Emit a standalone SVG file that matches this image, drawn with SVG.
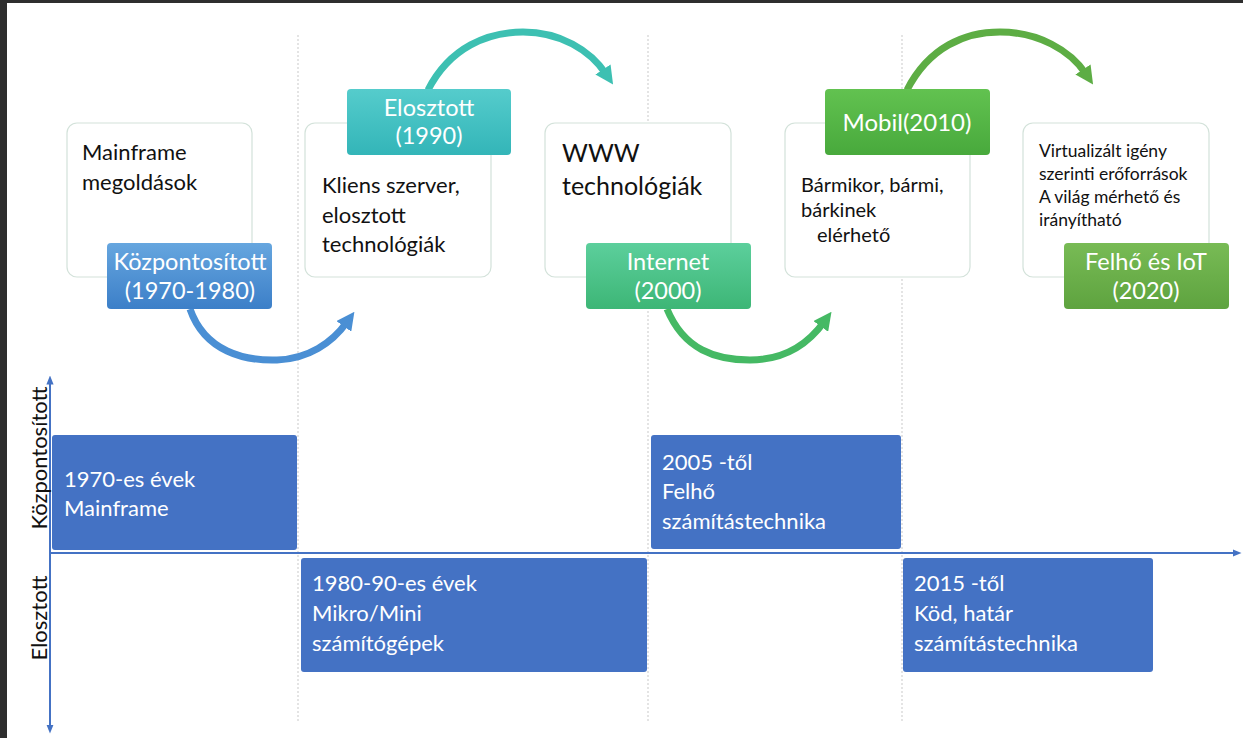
<svg xmlns="http://www.w3.org/2000/svg" width="1243" height="738" viewBox="0 0 1243 738">
<style>
.card{fill:#fff;stroke:#d3e2da;stroke-width:1.2}
.t{font-family:Lato,"Open Sans","Liberation Sans",sans-serif;fill:#111}
.lbl{font-family:Lato,"Open Sans","Liberation Sans",sans-serif;fill:#fff;font-size:23.5px;text-anchor:middle}
.bt{font-family:Lato,"Open Sans","Liberation Sans",sans-serif;fill:#fff;font-size:22px}
.blue{fill:#4472c4}
.dash{stroke:#c9c9c9;stroke-width:1;stroke-dasharray:2 2}
.axis{stroke:#4472c4;stroke-width:2;fill:none}
.arr{fill:none;stroke-width:7;stroke-linecap:butt}
</style>
<defs>
<linearGradient id="gB" x1="0" y1="0" x2="0" y2="1"><stop offset="0" stop-color="#66a6df"/><stop offset="1" stop-color="#3c7fc8"/></linearGradient>
<linearGradient id="gT" x1="0" y1="0" x2="0" y2="1"><stop offset="0" stop-color="#55cccc"/><stop offset="1" stop-color="#33b5b8"/></linearGradient>
<linearGradient id="gI" x1="0" y1="0" x2="0" y2="1"><stop offset="0" stop-color="#5ccf9c"/><stop offset="1" stop-color="#3db676"/></linearGradient>
<linearGradient id="gM" x1="0" y1="0" x2="0" y2="1"><stop offset="0" stop-color="#62c250"/><stop offset="1" stop-color="#48a93c"/></linearGradient>
<linearGradient id="gF" x1="0" y1="0" x2="0" y2="1"><stop offset="0" stop-color="#78bb55"/><stop offset="1" stop-color="#5ea33f"/></linearGradient>
<marker id="mB" viewBox="0 0 10 10" refX="3" refY="5" markerWidth="2.6" markerHeight="2.6" orient="auto" markerUnits="strokeWidth"><path d="M0,0 L10,5 L0,10 z" fill="#4a8fd4"/></marker>
<marker id="mT" viewBox="0 0 10 10" refX="3" refY="5" markerWidth="2.6" markerHeight="2.6" orient="auto" markerUnits="strokeWidth"><path d="M0,0 L10,5 L0,10 z" fill="#3dc0b2"/></marker>
<marker id="mG" viewBox="0 0 10 10" refX="3" refY="5" markerWidth="2.6" markerHeight="2.6" orient="auto" markerUnits="strokeWidth"><path d="M0,0 L10,5 L0,10 z" fill="#45b964"/></marker>
<marker id="mL" viewBox="0 0 10 10" refX="3" refY="5" markerWidth="2.6" markerHeight="2.6" orient="auto" markerUnits="strokeWidth"><path d="M0,0 L10,5 L0,10 z" fill="#5dad44"/></marker>
<marker id="ax" viewBox="0 0 10 10" refX="5" refY="5" markerWidth="4.5" markerHeight="4.5" orient="auto-start-reverse" markerUnits="strokeWidth"><path d="M0,1 L10,5 L0,9 z" fill="#4472c4"/></marker>
</defs>
<rect width="1243" height="738" fill="#fff"/>
<rect x="0" y="0" width="1243" height="3" fill="#2e2e2e"/>
<rect x="0" y="0" width="7" height="738" fill="#2e2e2e"/>

<g id="gridlines">
<line class="dash" x1="298" y1="35" x2="298" y2="722"/>
<line class="dash" x1="648" y1="35" x2="648" y2="722"/>
<line class="dash" x1="902" y1="35" x2="902" y2="722"/>
</g>

<g id="card1"><rect class="card" x="67" y="123" width="185" height="154" rx="10"/>
<text class="t" font-size="22"><tspan x="82" y="160">Mainframe</tspan><tspan x="82" y="190">megoldások</tspan></text></g>
<g id="card2"><rect class="card" x="305" y="123" width="186" height="154" rx="10"/>
<text class="t" font-size="22"><tspan x="322" y="193">Kliens szerver,</tspan><tspan x="322" y="223">elosztott</tspan><tspan x="322" y="252">technológiák</tspan></text></g>
<g id="card3"><rect class="card" x="545" y="123" width="186" height="154" rx="10"/>
<text class="t" font-size="25"><tspan x="562" y="162">WWW</tspan><tspan x="562" y="195">technológiák</tspan></text></g>
<g id="card4"><rect class="card" x="785" y="123" width="185" height="154" rx="10"/>
<text class="t" font-size="20"><tspan x="801" y="192">Bármikor, bármi,</tspan><tspan x="801" y="217">bárkinek</tspan><tspan x="817" y="242">elérhető</tspan></text></g>
<g id="card5"><rect class="card" x="1023" y="123" width="186" height="154" rx="10"/>
<text class="t" font-size="17.5"><tspan x="1039" y="157">Virtualizált igény</tspan><tspan x="1039" y="180">szerinti erőforrások</tspan><tspan x="1039" y="203">A világ mérhető és</tspan><tspan x="1039" y="226">irányítható</tspan></text></g>

<g id="connectors">
<path class="arr" stroke="#4a8fd4" marker-end="url(#mB)" d="M190,309 C205,352 245,361 277,360 C308,359 332,343 347,322"/>
<path class="arr" stroke="#3dc0b2" marker-end="url(#mT)" d="M428,90 C450,47 488,32 523,32 C560,32 590,50 606,74"/>
<path class="arr" stroke="#45b964" marker-end="url(#mG)" d="M667,309 C684,350 716,360 750,360 C784,360 808,344 824,322"/>
<path class="arr" stroke="#5dad44" marker-end="url(#mL)" d="M907,90 C929,47 965,32 1000,32 C1038,32 1070,50 1086,74"/>
</g>

<g id="lbl1"><rect x="107" y="243" width="165" height="66" rx="4" fill="url(#gB)"/>
<text class="lbl"><tspan x="190" y="270">Központosított</tspan><tspan x="190" y="299">(1970-1980)</tspan></text></g>
<g id="lbl2"><rect x="347" y="89" width="164" height="66" rx="4" fill="url(#gT)"/>
<text class="lbl"><tspan x="429" y="116">Elosztott</tspan><tspan x="429" y="144">(1990)</tspan></text></g>
<g id="lbl3"><rect x="586" y="243" width="165" height="66" rx="4" fill="url(#gI)"/>
<text class="lbl"><tspan x="668" y="270">Internet</tspan><tspan x="668" y="299">(2000)</tspan></text></g>
<g id="lbl4"><rect x="825" y="89" width="165" height="66" rx="4" fill="url(#gM)"/>
<text class="lbl" style="font-size:24px"><tspan x="907" y="131">Mobil(2010)</tspan></text></g>
<g id="lbl5"><rect x="1064" y="243" width="165" height="66" rx="4" fill="url(#gF)"/>
<text class="lbl"><tspan x="1146" y="270">Felhő és IoT</tspan><tspan x="1146" y="299">(2020)</tspan></text></g>

<g id="axes">
<line class="axis" x1="50" y1="380" x2="50" y2="729" marker-start="url(#ax)" marker-end="url(#ax)"/>
<line class="axis" x1="50" y1="553" x2="1237" y2="553" marker-end="url(#ax)"/>
<text class="t" font-size="22" text-anchor="middle" transform="translate(47,458) rotate(-90)">Központosított</text>
<text class="t" font-size="22" text-anchor="middle" transform="translate(47,618) rotate(-90)">Elosztott</text>
</g>

<g id="era1"><rect class="blue" x="52" y="435" width="245" height="115" rx="3"/>
<text class="bt"><tspan x="64" y="487">1970-es évek</tspan><tspan x="64" y="516">Mainframe</tspan></text></g>
<g id="era2"><rect class="blue" x="301" y="558" width="346" height="114" rx="3"/>
<text class="bt"><tspan x="312" y="591">1980-90-es évek</tspan><tspan x="312" y="621">Mikro/Mini</tspan><tspan x="312" y="651">számítógépek</tspan></text></g>
<g id="era3"><rect class="blue" x="651" y="435" width="250" height="114" rx="3"/>
<text class="bt"><tspan x="662" y="470">2005 -től</tspan><tspan x="662" y="499">Felhő</tspan><tspan x="662" y="529">számítástechnika</tspan></text></g>
<g id="era4"><rect class="blue" x="903" y="558" width="250" height="114" rx="3"/>
<text class="bt"><tspan x="914" y="591">2015 -től</tspan><tspan x="914" y="621">Köd, határ</tspan><tspan x="914" y="651">számítástechnika</tspan></text></g>
</svg>
